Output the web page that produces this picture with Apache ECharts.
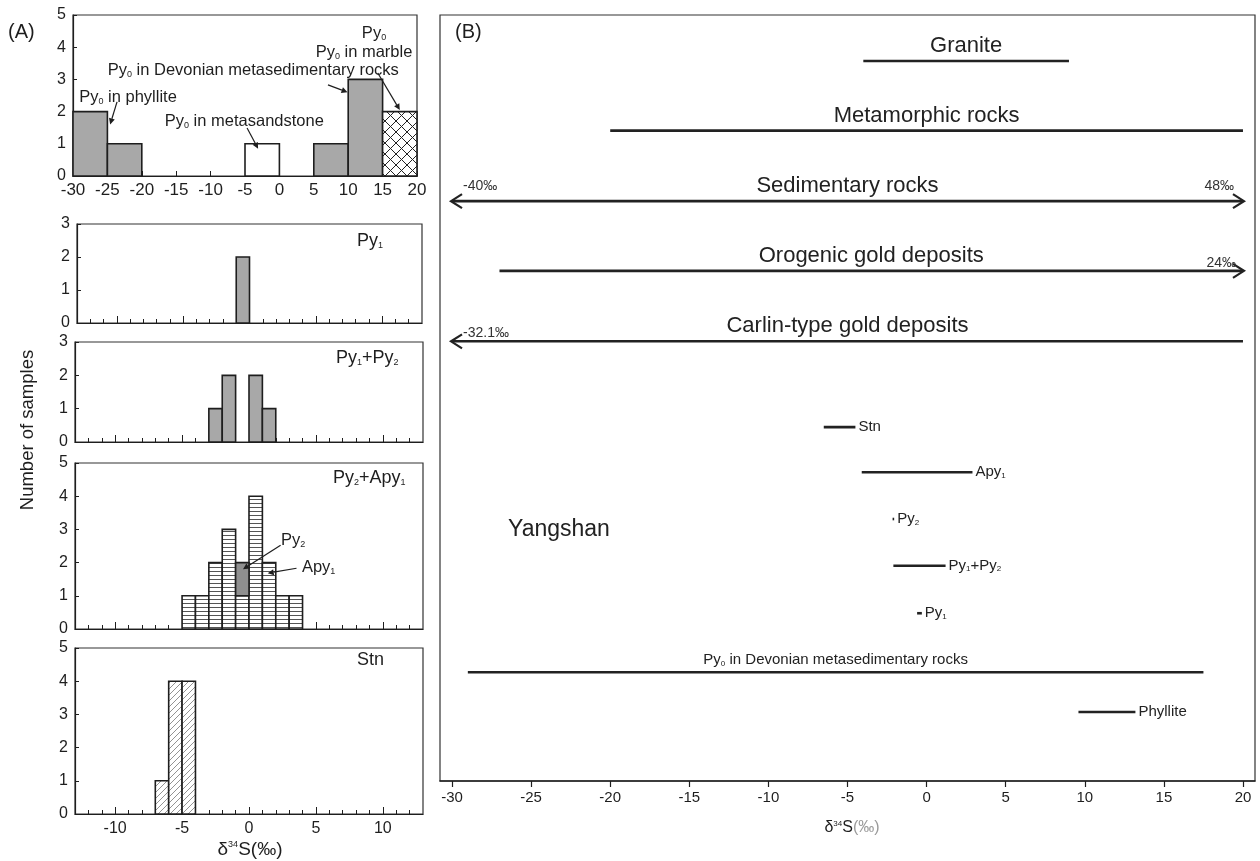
<!DOCTYPE html>
<html><head><meta charset="utf-8">
<script src="https://cdn.jsdelivr.net/npm/echarts@6/dist/echarts.min.js"></script>
<style>html,body{margin:0;padding:0;background:#fff}#c{width:1260px;height:861px}</style>
</head><body><div id="c"></div>
<script>
// ================= DATA =================
// Panel A, top: Py0 histogram (5‰ bins)
const py0Edges = [-30,-25,-20,-15,-10,-5,0,5,10,15,20];
const py0Phyllite      = [2,1,0,0,0,0,0,0,0,0];
const py0Metasandstone = [0,0,0,0,0,1,0,0,0,0];
const py0Devonian      = [0,0,0,0,0,0,0,1,3,0];
const py0Marble        = [0,0,0,0,0,0,0,0,0,2];

// Panel A, lower panels (1‰ bins: bin start, count)
const py1Start  = [-1];            const py1Count  = [2];
const py12Start = [-3,-2,0,1];     const py12Count = [1,2,2,1];
const apy1Start = [-5,-4,-3,-2,-1,0,1,2,3]; const apy1Count = [1,1,2,3,1,4,2,1,1];
const py2Start  = [-1];            const py2Count  = [1];   // stacked on Apy1
const stnStart  = [-7,-6,-5];      const stnCount  = [1,4,4];
const lowerMajorTicks = [-10,-5,0,5,10];
const lowerMinorTicks = [-12,-11,-10,-9,-8,-7,-6,-5,-4,-3,-2,-1,0,1,2,3,4,5,6,7,8,9,10,11,12];

// Panel B: reference ranges (‰)
const refNames = ['Granite','Metamorphic rocks','Sedimentary rocks','Orogenic gold deposits','Carlin-type gold deposits'];
const refMin   = [-4, -20, -40, -27, -32.1];
const refMax   = [9, 20, 48, 24, 20];
const refRow   = [6.0, 15.1, 24.3, 33.4, 42.6];
// Panel B: Yangshan ranges (‰)
const ysNames = ['Stn','Apy{s|1}','Py{s|2}','Py{s|1}+Py{s|2}','Py{s|1}','Py{s|0} in Devonian metasedimentary rocks','Phyllite'];
const ysMin   = [-6.5, -4.1, -2.15, -2.1, -0.6, -29, 9.6];
const ysMax   = [-4.5, 2.9, -2.05, 1.2, -0.3, 17.5, 13.2];
const ysRow   = [53.8, 59.7, 65.8, 71.9, 78.1, 85.8, 91.0];
const bXTicks = [-30,-25,-20,-15,-10,-5,0,5,10,15,20];

// ================= STYLE HELPERS =================
const FA = '"Liberation Sans", Arial, sans-serif';
const INK = '#1e1e1e';
const GREY = '#a8a8a8';

function pattern(kind){
  const c = document.createElement('canvas');
  const ctx = c.getContext('2d');
  if(kind==='cross'){ c.width=11;c.height=11; ctx.fillStyle='#fff';ctx.fillRect(0,0,11,11);
    ctx.strokeStyle='#222';ctx.lineWidth=1;ctx.beginPath();ctx.moveTo(0,0);ctx.lineTo(11,11);ctx.moveTo(0,11);ctx.lineTo(11,0);ctx.stroke(); }
  else if(kind==='h'){ c.width=8;c.height=4; ctx.fillStyle='#fff';ctx.fillRect(0,0,8,4);
    ctx.strokeStyle='#555';ctx.lineWidth=1;ctx.beginPath();ctx.moveTo(0,3.5);ctx.lineTo(8,3.5);ctx.stroke(); }
  else { c.width=6;c.height=6; ctx.fillStyle='#fff';ctx.fillRect(0,0,6,6);
    ctx.strokeStyle='#777';ctx.lineWidth=0.8;ctx.beginPath();ctx.moveTo(0,6);ctx.lineTo(6,0);ctx.moveTo(-1,1);ctx.lineTo(1,-1);ctx.moveTo(5,7);ctx.lineTo(7,5);ctx.stroke(); }
  return {image:c, repeat:'repeat'};
}

function fromEdges(edges, counts){
  const out=[]; counts.forEach((c,i)=>{ if(c>0) out.push([edges[i],edges[i+1],0,c]); }); return out;
}
function fromStarts(starts, counts, base){
  return starts.map((s,i)=>{ const b = base ? base(s) : 0; return [s, s+1, b, b+counts[i]]; });
}
function histSeries(data, xi, yi, fill){
  return {type:'custom', xAxisIndex:xi, yAxisIndex:yi, data, z:3,
    renderItem:(p,api)=>{
      const a=api.coord([api.value(0),api.value(3)]), b=api.coord([api.value(1),api.value(2)]);
      return {type:'rect', shape:{x:a[0],y:a[1],width:b[0]-a[0],height:b[1]-a[1]},
        style:{fill, stroke:INK, lineWidth:1.6}};
    }};
}
function arrowSeries(data, xi, yi){
  return {type:'custom', xAxisIndex:xi, yAxisIndex:yi, data, z:5,
    renderItem:(p,api)=>{
      const a=api.coord([api.value(0),api.value(1)]), b=api.coord([api.value(2),api.value(3)]);
      const ang=Math.atan2(b[1]-a[1], b[0]-a[0]), L=6, W=3;
      const bx=b[0]-L*Math.cos(ang), by=b[1]-L*Math.sin(ang);
      return {type:'group', children:[
        {type:'line', shape:{x1:a[0],y1:a[1],x2:bx,y2:by}, style:{stroke:INK,lineWidth:1.2}},
        {type:'polygon', shape:{points:[[b[0],b[1]],[bx-W*Math.sin(ang),by+W*Math.cos(ang)],[bx+W*Math.sin(ang),by-W*Math.cos(ang)]]}, style:{fill:INK}}
      ]};
    }};
}
const subR = (fs)=>({s:{fontSize:fs, fontFamily:FA, fill:INK, verticalAlign:'bottom', padding:[fs-1,0,0,0]}});
function textSeries(items, xi, yi, size){
  return {type:'custom', xAxisIndex:xi, yAxisIndex:yi, data:items.map(t=>[t[1],t[2]]), z:6,
    renderItem:(p,api)=>{
      const a=api.coord([api.value(0),api.value(1)]);
      return {type:'text', x:a[0], y:a[1], style:{text:items[p.dataIndex][0], fontSize:size, fontFamily:FA, fill:INK,
        align:'center', verticalAlign:'middle', rich:subR(9)}};
    }};
}

// ================= AXES / GRIDS =================
const gridsA = [
  {left:73, top:15,  width:344, height:161},
  {left:77, top:224, width:345, height:99},
  {left:75, top:342, width:348, height:100},
  {left:75, top:463, width:348, height:166},
  {left:75, top:648, width:348, height:166}
];
const gridB = {left:440, top:15, width:815, height:766};
const grids = gridsA.concat([gridB]).map(g=>Object.assign({show:true, borderColor:'#333', borderWidth:1.2, backgroundColor:'transparent'}, g));

const lineSt = {show:true, onZero:false, lineStyle:{color:INK, width:1.2}};
const yMax = [5,3,3,5,5];
const yAxes = yMax.map((m,i)=>({type:'value', gridIndex:i, min:0, max:m, interval:1,
  axisLine:lineSt, axisTick:{show:true, inside:true, length:4, lineStyle:{color:INK}},
  axisLabel:{fontSize:16, color:INK, margin:7, fontFamily:FA}, splitLine:{show:false}}));
yAxes.push({type:'value', gridIndex:5, min:0, max:100, inverse:true, show:false});

const xAxes = [];
// 0: top panel
xAxes.push({type:'value', gridIndex:0, min:-30, max:20, interval:5,
  axisLine:lineSt, axisTick:{show:true, inside:true, length:5, lineStyle:{color:INK}},
  axisLabel:{fontSize:17, color:INK, margin:6, fontFamily:FA}, splitLine:{show:false}});
// 1..4: lower panels major
for(let g=1; g<=4; g++){
  xAxes.push({type:'value', gridIndex:g, min:-13, max:13, position:'bottom',
    axisLine:lineSt, axisTick:{show:true, inside:true, length:7, customValues:lowerMajorTicks, lineStyle:{color:INK}},
    axisLabel:{show:g===4, customValues:lowerMajorTicks, fontSize:16, color:INK, margin:7, fontFamily:FA},
    splitLine:{show:false}});
}
// 5..8: lower panels minor ticks
for(let g=1; g<=4; g++){
  xAxes.push({type:'value', gridIndex:g, min:-13, max:13, position:'bottom',
    axisLine:{show:false, onZero:false}, axisTick:{show:true, inside:true, length:4, customValues:lowerMinorTicks, lineStyle:{color:INK}},
    axisLabel:{show:false}, splitLine:{show:false}});
}
// 9: panel B
xAxes.push({type:'value', gridIndex:5, min:-30.76, max:20.76, position:'bottom',
  axisLine:{show:true, onZero:false, lineStyle:{color:INK, width:1.5}},
  axisTick:{show:true, inside:false, length:6, customValues:bXTicks, lineStyle:{color:INK, width:1.2}},
  axisLabel:{customValues:bXTicks, fontSize:15, color:INK, margin:9, fontFamily:FA},
  splitLine:{show:false}});

// ================= SERIES =================
const series = [];
// top panel
series.push(histSeries(fromEdges(py0Edges, py0Phyllite), 0, 0, GREY));
series.push(histSeries(fromEdges(py0Edges, py0Metasandstone), 0, 0, '#fff'));
series.push(histSeries(fromEdges(py0Edges, py0Devonian), 0, 0, GREY));
series.push(histSeries(fromEdges(py0Edges, py0Marble), 0, 0, pattern('cross')));
series.push(textSeries([
  ['Py{s|0}', 13.75, 4.44],
  ['Py{s|0} in marble', 12.3, 3.85],
  ['Py{s|0} in Devonian metasedimentary rocks', -3.8, 3.29],
  ['Py{s|0} in phyllite', -22.0, 2.45],
  ['Py{s|0} in metasandstone', -5.1, 1.68]
], 0, 0, 16.5));
series.push(arrowSeries([[-23.6,2.3,-24.6,1.6],[-4.7,1.49,-3.1,0.85],[7.06,2.83,9.9,2.6],[14.3,3.2,17.5,2.05]], 0, 0));

// Py1
series.push(histSeries(fromStarts(py1Start, py1Count), 1, 1, GREY));
// Py1+Py2
series.push(histSeries(fromStarts(py12Start, py12Count), 2, 2, GREY));
// Py2+Apy1
series.push(histSeries(fromStarts(apy1Start, apy1Count), 3, 3, pattern('h')));
series.push(histSeries(fromStarts(py2Start, py2Count, s=>apy1Count[apy1Start.indexOf(s)]), 3, 3, '#8f8f8f'));
series.push(textSeries([['Py{s|2}', 3.3, 2.67],['Apy{s|1}', 5.2, 1.86]], 3, 3, 16.5));
series.push(arrowSeries([[2.36,2.52,-0.45,1.8],[3.55,1.83,1.4,1.68]], 3, 3));
// Stn
series.push(histSeries(fromStarts(stnStart, stnCount), 4, 4, pattern('d')));

// Panel B ranges
function rangeSeries(names, mins, maxs, rows, kind){
  return {type:'custom', xAxisIndex:9, yAxisIndex:5, data:mins.map((m,i)=>[m, maxs[i], rows[i]]), z:4,
    renderItem:(p,api)=>{
      const i=p.dataIndex, lo=api.value(0), hi=api.value(1), row=api.value(2);
      const L=Math.max(lo,-30), R=Math.min(hi,20);
      const a=api.coord([L,row]), b=api.coord([R,row]);
      const ch=[{type:'line', shape:{x1:a[0],y1:a[1],x2:b[0],y2:b[1]}, style:{stroke:'#222', lineWidth:2.6}}];
      const arrow=(x,y,dir)=>({type:'polyline', shape:{points:[[x-dir*10,y-7],[x+dir*1,y],[x-dir*10,y+7]]}, style:{stroke:'#222', lineWidth:2.2, fill:null}});
      const small=(t,x,y,al)=>({type:'text', x, y, style:{text:t, fontSize:14, fontFamily:FA, fill:'#333', align:al, verticalAlign:'middle'}});
      if(lo<-30){ ch.push(arrow(a[0],a[1],-1)); ch.push(small(lo+'‰', a[0]+11, a[1]-(i===2?15:8), 'left')); }
      if(hi>20){ ch.push(arrow(b[0],b[1],1)); ch.push(small(hi+'‰', b[0]-(i===2?9:7), b[1]-(i===2?15:8), 'right')); }
      if(kind==='ref'){
        ch.push({type:'text', x:(a[0]+b[0])/2, y:a[1]-15, style:{text:names[i], fontSize:22, fontFamily:FA, fill:'#222', align:'center', verticalAlign:'middle'}});
      } else {
        const above = names[i].indexOf('Devonian')>=0;
        ch.push({type:'text', x: above ? (a[0]+b[0])/2 : b[0]+3, y: above ? a[1]-12 : a[1],
          style:{text:names[i], fontSize:15, fontFamily:FA, fill:'#222', align: above?'center':'left', verticalAlign:'middle',
            rich:{s:{fontSize:8, fontFamily:FA, fill:'#222', verticalAlign:'bottom', padding:[7,0,0,0]}}}});
      }
      return {type:'group', children:ch};
    }};
}
series.push(rangeSeries(refNames, refMin, refMax, refRow, 'ref'));
series.push(rangeSeries(ysNames, ysMin, ysMax, ysRow, 'ys'));

// ================= GRAPHIC TEXTS =================
const titleRich = {s:{fontSize:9, fontFamily:FA, fill:INK, verticalAlign:'bottom', padding:[8,0,0,0]}};
const graphic = [
  {type:'text', x:8, y:32, style:{text:'(A)', fontSize:20, fontFamily:FA, fill:INK, verticalAlign:'middle'}},
  {type:'text', x:455, y:32, style:{text:'(B)', fontSize:20, fontFamily:FA, fill:INK, verticalAlign:'middle'}},
  {type:'text', x:28, y:430, rotation:Math.PI/2, style:{text:'Number of samples', fontSize:18.5, fontFamily:FA, fill:INK, align:'center', verticalAlign:'middle'}},
  {type:'text', x:357, y:241, style:{text:'Py{s|1}', fontSize:18, fontFamily:FA, fill:INK, verticalAlign:'middle', rich:titleRich}},
  {type:'text', x:336, y:358, style:{text:'Py{s|1}+Py{s|2}', fontSize:18, fontFamily:FA, fill:INK, verticalAlign:'middle', rich:titleRich}},
  {type:'text', x:333, y:478, style:{text:'Py{s|2}+Apy{s|1}', fontSize:18, fontFamily:FA, fill:INK, verticalAlign:'middle', rich:titleRich}},
  {type:'text', x:357, y:660, style:{text:'Stn', fontSize:18, fontFamily:FA, fill:INK, verticalAlign:'middle'}},
  {type:'text', x:250, y:850, style:{text:'δ{sup|34}S(‰)', fontSize:19, fontFamily:FA, fill:INK, align:'center', verticalAlign:'middle', rich:{sup:{fontSize:9,fontFamily:FA,fill:INK,verticalAlign:'top',padding:[0,0,9,0]}}}},
  {type:'text', x:852, y:828, style:{text:'δ{sup|34}S{g|(‰)}', fontSize:16, fontFamily:FA, fill:INK, align:'center', verticalAlign:'middle', rich:{sup:{fontSize:8,fontFamily:FA,fill:INK,verticalAlign:'top',padding:[0,0,8,0]}, g:{fill:'#9a9a9a', fontSize:16, fontFamily:FA}}}},
  {type:'text', x:508, y:530, style:{text:'Yangshan', fontSize:23, fontFamily:FA, fill:'#222', verticalAlign:'middle'}}
];

const chart = echarts.init(document.getElementById('c'), null, {renderer:'canvas'});
chart.setOption({animation:false, backgroundColor:'#fff', grid:grids, xAxis:xAxes, yAxis:yAxes, series, graphic});
</script>
</body></html>
